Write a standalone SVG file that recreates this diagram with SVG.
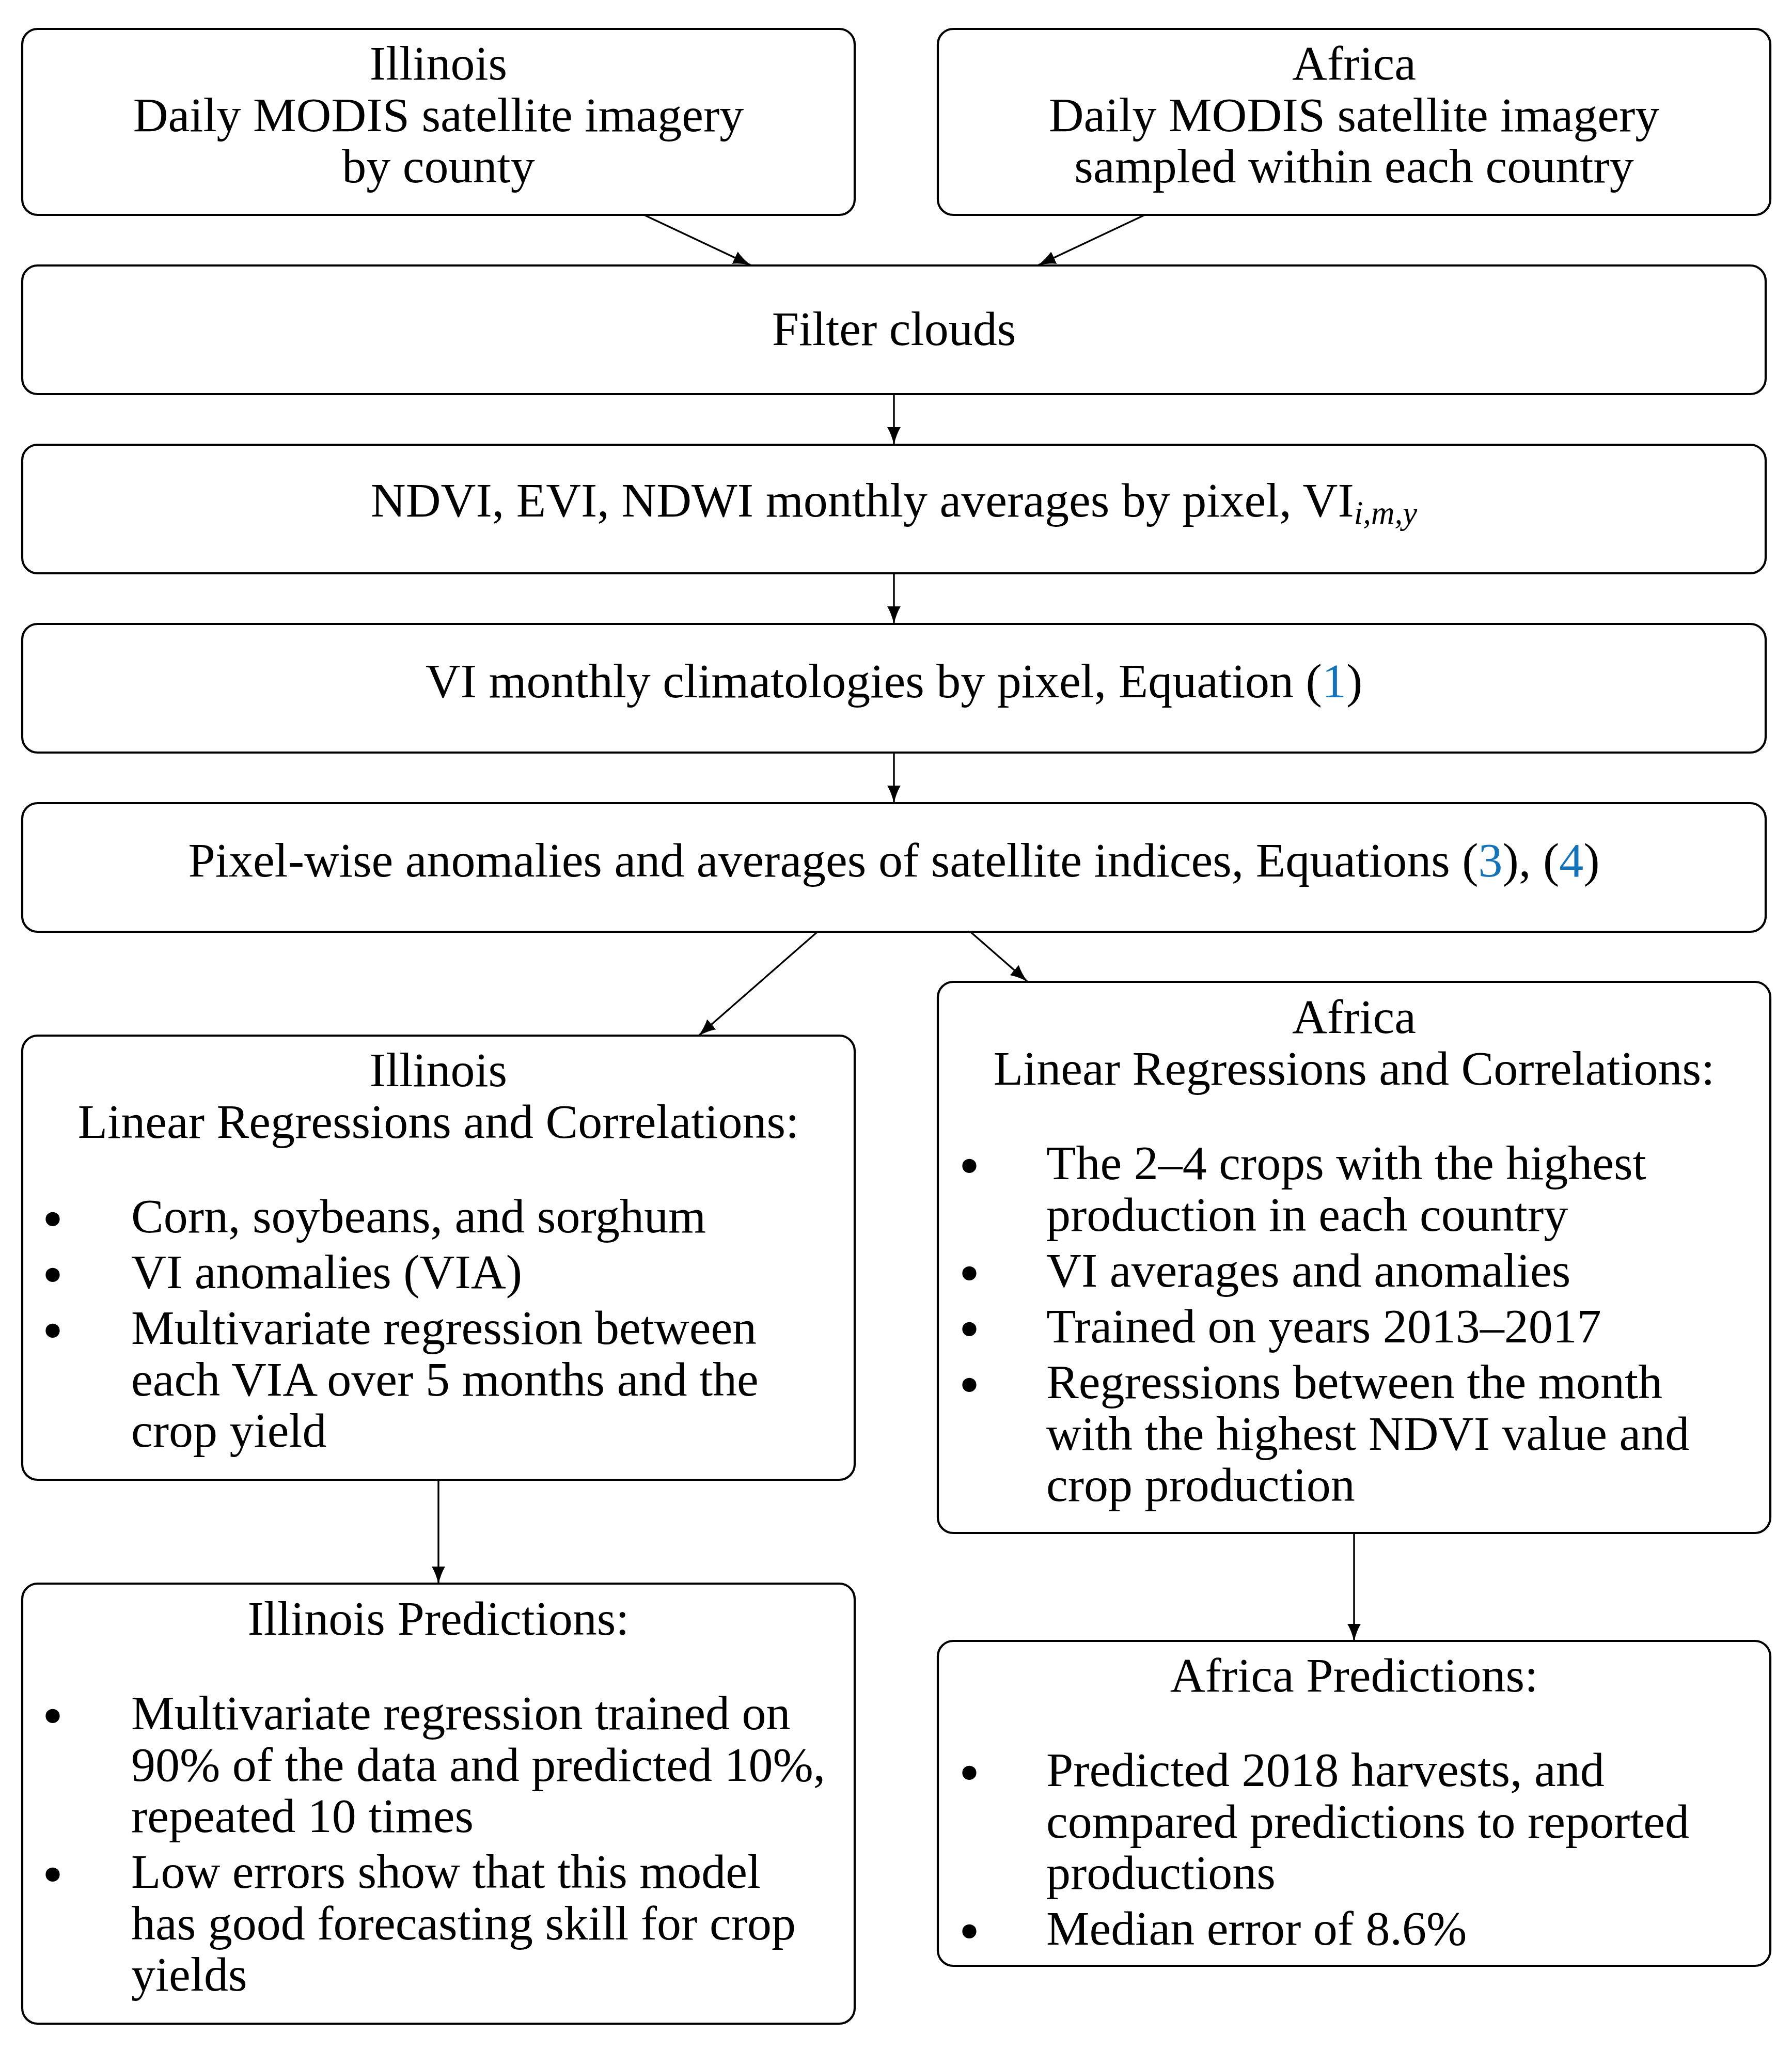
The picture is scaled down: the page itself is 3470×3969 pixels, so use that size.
<svg xmlns="http://www.w3.org/2000/svg" width="3470" height="3969" viewBox="0 0 3470 3969">
<style>
.box{fill:#fff;stroke:#000;stroke-width:4.2}
text{font-family:"Liberation Serif","Times New Roman",serif;font-size:94px;fill:#000}
.c{text-anchor:middle}
.ref{fill:#1473b8}
text.bul{font-family:"DejaVu Sans","Liberation Sans",sans-serif;font-size:94px;text-anchor:middle}
.conn line{stroke:#000;stroke-width:3.4;fill:none;marker-end:url(#ah)}
</style>
<defs>
<marker id="ah" markerUnits="userSpaceOnUse" markerWidth="34" markerHeight="28" viewBox="0 0 34 28" refX="33" refY="14" orient="auto">
<path d="M0,1 Q13,9 34,14 Q13,19 0,27 Z" fill="#000"/>
</marker>
</defs>
<rect x="0" y="0" width="3470" height="3969" fill="#fff"/>

<g id="conn" class="conn">
<line x1="1247" y1="416" x2="1453" y2="513"/>
<line x1="2217" y1="416" x2="2011" y2="513"/>
<line x1="1731" y1="763" x2="1731" y2="860"/>
<line x1="1731" y1="1110" x2="1731" y2="1207"/>
<line x1="1731" y1="1457" x2="1731" y2="1554"/>
<line x1="1583" y1="1804" x2="1353" y2="2005"/>
<line x1="1879" y1="1804" x2="1989" y2="1900"/>
<line x1="849" y1="2865" x2="849" y2="3066"/>
<line x1="2622" y1="2968" x2="2622" y2="3177"/>
</g>

<g id="illinois-data">
<rect class="box" x="43" y="56" width="1612" height="360" rx="30"/>
<text class="c" x="849" y="154">Illinois</text>
<text class="c" x="849" y="254">Daily MODIS satellite imagery</text>
<text class="c" x="849" y="353">by county</text>
</g>

<g id="africa-data">
<rect class="box" x="1816" y="56" width="1612" height="360" rx="30"/>
<text class="c" x="2622" y="154">Africa</text>
<text class="c" x="2622" y="254">Daily MODIS satellite imagery</text>
<text class="c" x="2622" y="353">sampled within each country</text>
</g>

<g id="filter">
<rect class="box" x="43" y="514" width="3376" height="249" rx="30"/>
<text class="c" x="1731" y="668">Filter clouds</text>
</g>

<g id="ndvi">
<rect class="box" x="43" y="861" width="3376" height="249" rx="30"/>
<text class="c" x="1731" y="1000">NDVI, EVI, NDWI monthly averages by pixel, VI<tspan font-style="italic" font-size="63" dy="14">i,m,y</tspan></text>
</g>

<g id="climatology">
<rect class="box" x="43" y="1208" width="3376" height="249" rx="30"/>
<text class="c" x="1731" y="1350">VI monthly climatologies by pixel, Equation (<tspan class="ref">1</tspan>)</text>
</g>

<g id="anomalies">
<rect class="box" x="43" y="1555" width="3376" height="249" rx="30"/>
<text class="c" x="1731" y="1697">Pixel-wise anomalies and averages of satellite indices, Equations (<tspan class="ref">3</tspan>), (<tspan class="ref">4</tspan>)</text>
</g>

<g id="illinois-regression">
<rect class="box" x="43" y="2005" width="1612" height="860" rx="30"/>
<text class="c" x="849" y="2103">Illinois</text>
<text class="c" x="849" y="2203">Linear Regressions and Correlations:</text>
<text class="bul" x="102" y="2395">•</text>
<text x="254" y="2386">Corn, soybeans, and sorghum</text>
<text class="bul" x="102" y="2503">•</text>
<text x="254" y="2494">VI anomalies (VIA)</text>
<text class="bul" x="102" y="2611">•</text>
<text x="254" y="2602">Multivariate regression between</text>
<text x="254" y="2702">each VIA over 5 months and the</text>
<text x="254" y="2801">crop yield</text>
</g>

<g id="africa-regression">
<rect class="box" x="1816" y="1901" width="1612" height="1067" rx="30"/>
<text class="c" x="2622" y="2000">Africa</text>
<text class="c" x="2622" y="2100">Linear Regressions and Correlations:</text>
<text class="bul" x="1877" y="2292">•</text>
<text x="2026" y="2283">The 2–4 crops with the highest</text>
<text x="2026" y="2383">production in each country</text>
<text class="bul" x="1877" y="2500">•</text>
<text x="2026" y="2491">VI averages and anomalies</text>
<text class="bul" x="1877" y="2608">•</text>
<text x="2026" y="2599">Trained on years 2013–2017</text>
<text class="bul" x="1877" y="2716">•</text>
<text x="2026" y="2707">Regressions between the month</text>
<text x="2026" y="2807">with the highest NDVI value and</text>
<text x="2026" y="2906">crop production</text>
</g>

<g id="illinois-predictions">
<rect class="box" x="43" y="3066" width="1612" height="852" rx="30"/>
<text class="c" x="849" y="3165">Illinois Predictions:</text>
<text class="bul" x="102" y="3357">•</text>
<text x="254" y="3348">Multivariate regression trained on</text>
<text x="254" y="3448">90% of the data and predicted 10%,</text>
<text x="254" y="3547">repeated 10 times</text>
<text class="bul" x="102" y="3664">•</text>
<text x="254" y="3655">Low errors show that this model</text>
<text x="254" y="3755">has good forecasting skill for crop</text>
<text x="254" y="3854">yields</text>
</g>

<g id="africa-predictions">
<rect class="box" x="1816" y="3177" width="1612" height="629" rx="30"/>
<text class="c" x="2622" y="3275">Africa Predictions:</text>
<text class="bul" x="1877" y="3467">•</text>
<text x="2026" y="3458">Predicted 2018 harvests, and</text>
<text x="2026" y="3558">compared predictions to reported</text>
<text x="2026" y="3657">productions</text>
<text class="bul" x="1877" y="3774">•</text>
<text x="2026" y="3765">Median error of 8.6%</text>
</g>
</svg>
